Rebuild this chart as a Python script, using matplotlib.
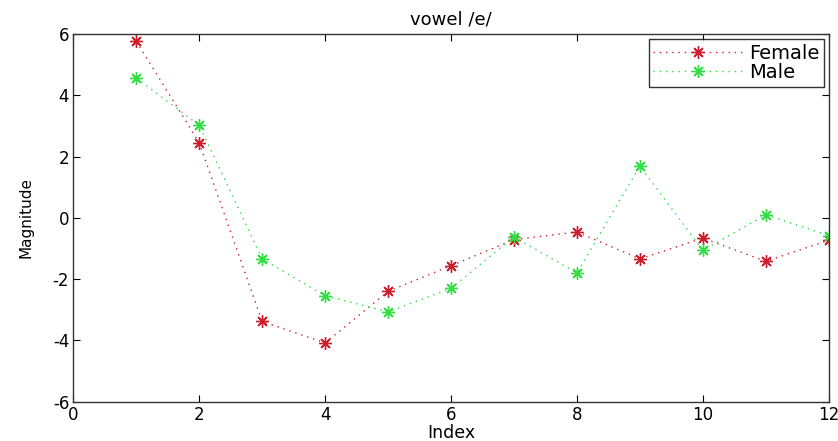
import matplotlib
matplotlib.use("Agg")
import matplotlib.pyplot as plt

plt.rcParams['font.family'] = ['DejaVu Sans']
plt.rcParams['axes.unicode_minus'] = False

index = list(range(1, 13))
female = [5.76, 2.45, -3.38, -4.08, -2.40, -1.56, -0.71, -0.46, -1.34, -0.66, -1.42, -0.73]
male = [4.56, 3.02, -1.34, -2.54, -3.07, -2.30, -0.62, -1.80, 1.69, -1.06, 0.10, -0.58]
xticks = [0, 2, 4, 6, 8, 10, 12]
yticks = [-6, -4, -2, 0, 2, 4, 6]

fig = plt.figure(figsize=(8.38, 4.41), dpi=100)
ax = fig.add_axes([0.0875, 0.089, 0.9015, 0.834])

asterisk = (8, 2, 0)
ax.plot(index, female, linestyle=(0, (1, 3.5)), color='#cc1f2e', marker=asterisk,
        markersize=9, markeredgewidth=1.0, linewidth=1.0, label='Female')
ax.plot(index, male, linestyle=(0, (1, 3.5)), color='#33dd44', marker=asterisk,
        markersize=9, markeredgewidth=1.0, linewidth=1.0, label='Male')

ax.set_xlim(0, 12)
ax.set_ylim(-6, 6)
ax.set_xticks(xticks)
ax.set_yticks(yticks)
ax.tick_params(direction='in', top=True, right=True, length=5, labelsize=12, pad=3)
for s in ax.spines.values():
    s.set_linewidth(1.0)
    s.set_color('#333333')

ax.set_title('vowel /e/', fontsize=13, pad=7)
ax.set_xlabel('Index', fontsize=12.5, labelpad=0)
ax.set_ylabel('Magnitude', fontsize=11, labelpad=14)

leg = ax.legend(loc='upper right', fontsize=14, frameon=True, fancybox=False,
                edgecolor='black', borderaxespad=0.25, handlelength=4.6,
                handletextpad=0.3, labelspacing=0.0, borderpad=0.25)
leg.get_frame().set_linewidth(1.0)

fig.savefig('out.png', dpi=100)
